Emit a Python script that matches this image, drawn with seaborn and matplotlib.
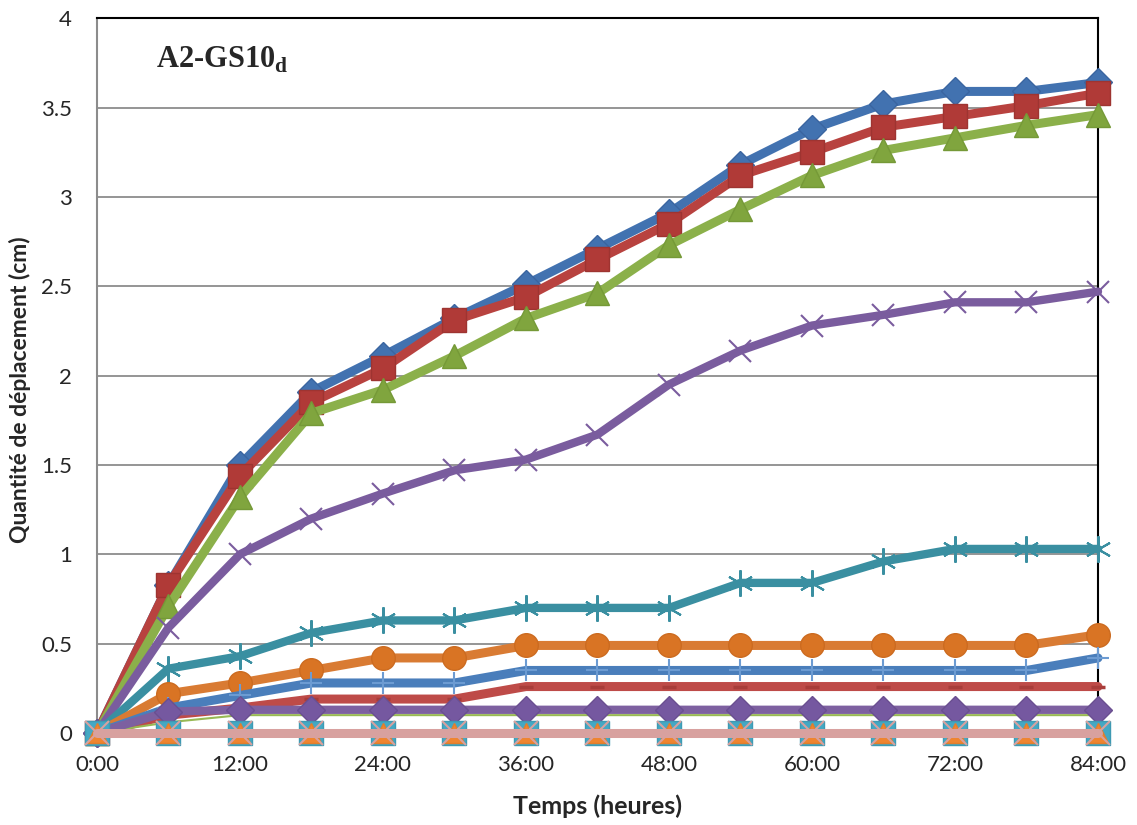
import numpy as np
import pandas as pd
import seaborn as sns
import matplotlib.pyplot as plt
from matplotlib.ticker import FuncFormatter, MultipleLocator

# Time in hours, one reading every 6 h
hours = [0, 6, 12, 18, 24, 30, 36, 42, 48, 54, 60, 66, 72, 78, 84]

s1 = [0, 0.83, 1.50, 1.91, 2.11, 2.32, 2.51, 2.71, 2.91, 3.18, 3.38, 3.52, 3.59, 3.59, 3.64]
s2 = [0, 0.83, 1.44, 1.85, 2.04, 2.31, 2.44, 2.65, 2.85, 3.12, 3.25, 3.39, 3.45, 3.51, 3.58]
s3 = [0, 0.71, 1.32, 1.79, 1.92, 2.11, 2.32, 2.46, 2.73, 2.93, 3.12, 3.26, 3.33, 3.40, 3.46]
s4 = [0, 0.59, 1.00, 1.20, 1.34, 1.47, 1.53, 1.67, 1.95, 2.14, 2.28, 2.34, 2.41, 2.41, 2.47]
s5 = [0, 0.36, 0.43, 0.56, 0.63, 0.63, 0.70, 0.70, 0.70, 0.84, 0.84, 0.96, 1.03, 1.03, 1.03]
s6 = [0, 0.22, 0.28, 0.35, 0.42, 0.42, 0.49, 0.49, 0.49, 0.49, 0.49, 0.49, 0.49, 0.49, 0.55]
s7 = [0, 0.14, 0.21, 0.28, 0.28, 0.28, 0.35, 0.35, 0.35, 0.35, 0.35, 0.35, 0.35, 0.35, 0.42]
s8 = [0, 0.10, 0.14, 0.19, 0.19, 0.19, 0.26, 0.26, 0.26, 0.26, 0.26, 0.26, 0.26, 0.26, 0.26]
s9 = [0, 0.06, 0.10, 0.10, 0.10, 0.10, 0.10, 0.10, 0.10, 0.10, 0.10, 0.10, 0.10, 0.10, 0.10]
s10 = [0, 0.12, 0.13, 0.13, 0.13, 0.13, 0.13, 0.13, 0.13, 0.13, 0.13, 0.13, 0.13, 0.13, 0.13]
s11 = [0] * 15
s12 = [0] * 15
s13 = [0] * 15

# (values, line colour, line width, marker, marker size, face, edge, edge width)
series = [
    (s1, "#4272B0", 6.5, "D", 14, "#4272B0", "#3A65A0", 1),
    (s2, "#B8423F", 6.5, "s", 17, "#B03A37", "#9E3431", 1),
    (s3, "#8BB04A", 6.5, "^", 17, "#80A53E", "#759937", 1),
    (s4, "#7A5C9E", 6, "x", 16, "none", "#7A5C9E", 1.5),
    (s5, "#3A8FA1", 6, (6, 2, 0), 19, "none", "#3A8FA1", 1.5),
    (s6, "#D97B33", 6.5, "o", 17, "#D97424", "#CC6B20", 1),
    (s7, "#4A7EBB", 6.5, "+", 16, "none", "#6C9BD2", 1.5),
    (s8, "#BE4B48", 6.5, "_", 10, "none", "#A83D3A", 2.5),
    (s9, "#98B954", 1.5, "None", 1, "none", "#98B954", 1),
    (s10, "#7D60A0", 6, "D", 14, "#7558A0", "#6A4F90", 1),
    (s11, "#4BACC6", 1.5, "s", 17, "#44A8C4", "#3E9AB3", 1),
    (s12, "#F79646", 1.5, "^", 15, "#EF8530", "#E07E2E", 1),
    (s13, "#D8A19F", 6.5, "x", 17, "none", "#D8A19F", 1.5),
]

sns.set_theme(style="white")
plt.rcParams["font.family"] = ["Lato", "DejaVu Sans"]
plt.rcParams["mathtext.fontset"] = "custom"
plt.rcParams["mathtext.rm"] = "Liberation Serif"
plt.rcParams["mathtext.bf"] = "Liberation Serif:bold"

fig = plt.figure(figsize=(11.37, 8.25), dpi=100)
ax = fig.add_axes([0.0853, 0.1115, 0.8804, 0.8665])

for i, (vals, col, lw, mk, ms, fc, ec, mew) in enumerate(series):
    df = pd.DataFrame({"hours": hours, "val": vals})
    sns.lineplot(data=df, x="hours", y="val", ax=ax, color=col, linewidth=lw,
                 marker=mk, markersize=ms, markerfacecolor=fc,
                 markeredgecolor=ec, markeredgewidth=mew,
                 clip_on=False, zorder=3 + i)

ax.set_xlim(0, 84)
ax.set_ylim(0, 4)
ax.xaxis.set_major_locator(MultipleLocator(12))
ax.xaxis.set_major_formatter(FuncFormatter(lambda v, p: f"{int(v)}:00"))
ax.yaxis.set_major_locator(MultipleLocator(0.5))
ax.yaxis.set_major_formatter(FuncFormatter(lambda v, p: f"{v:g}"))
ax.grid(axis="y", color="#8C8C8C", linewidth=1.3)
ax.set_axisbelow(True)

for side in ["left", "bottom"]:
    ax.spines[side].set_color("#8C8C8C")
    ax.spines[side].set_linewidth(1.5)
for side in ["top", "right"]:
    ax.spines[side].set_color("black")
    ax.spines[side].set_linewidth(1.5)

ax.tick_params(axis="y", labelsize=16, length=0, pad=18)
ax.tick_params(axis="x", labelsize=16, length=0, pad=16)

ax.set_xlabel("Temps (heures)", fontsize=18, fontweight="bold", labelpad=14)
ax.set_ylabel("Quantité de déplacement (cm)", fontsize=16.5, fontweight="bold")
ax.yaxis.set_label_coords(-0.066, 0.48)

ax.text(0.059, 0.931, r"A2-GS10$_{\mathbf{d}}$", transform=ax.transAxes,
        fontsize=22, fontweight="bold", family="Liberation Serif", zorder=20)

fig.savefig("out.png", dpi=100)
